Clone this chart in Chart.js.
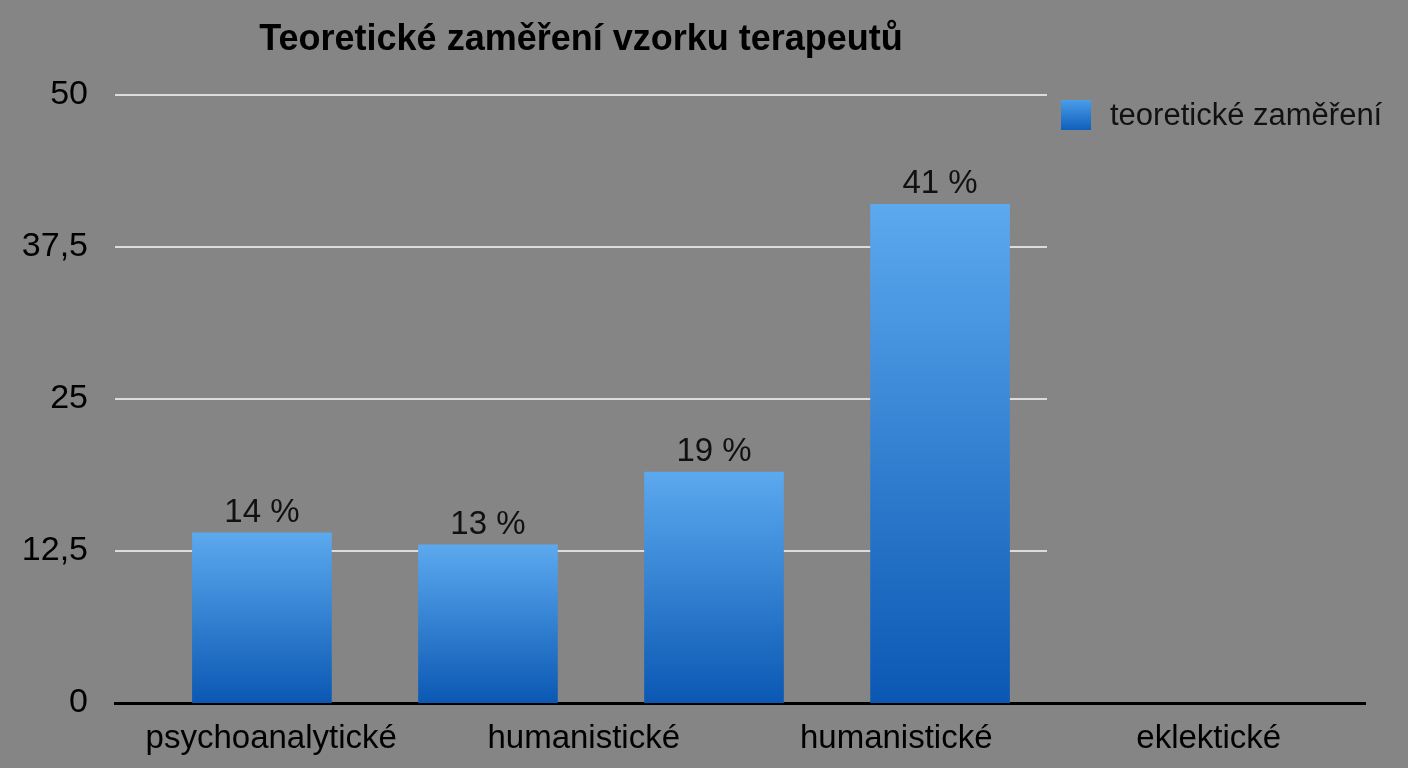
<!DOCTYPE html>
<html lang="cs">
<head>
  <meta charset="UTF-8">
  <title>Teoretické zaměření vzorku terapeutů</title>
  <script src="https://cdn.jsdelivr.net/npm/chart.js"></script>
  <style>
    html, body { margin: 0; padding: 0; background: #858585; }
    #wrap { width: 1408px; height: 768px; }
  </style>
</head>
<body>
  <div id="wrap"><canvas id="chart" width="1408" height="768"></canvas></div>

  <script>
    // data
    const chartTitle = "Teoretické zaměření vzorku terapeutů";
    const seriesLabel = "teoretické zaměření";
    const categories = ["psychoanalytické", "humanistické", "humanistické", "eklektické"];
    const percentValues = [14, 13, 19, 41];
    const yTicks = [0, 12.5, 25, 37.5, 50];

    const FONT = '"Liberation Sans", Arial, Helvetica, sans-serif';
    Chart.defaults.font.family = FONT;
    Chart.defaults.color = "#000";

    const GRID_RIGHT = 1047;   // gridlines stop short of the axis line
    const BAR_TOP = "#5ca9ef";
    const BAR_BOTTOM = "#0a58b3";

    function barGradient(c) {
      const chart = c.chart;
      if (!chart.chartArea || c.type !== "data" || !c.parsed) return "#2b82da";
      const y = chart.scales.y;
      const g = chart.ctx.createLinearGradient(0, y.getPixelForValue(c.parsed.y), 0, y.getPixelForValue(0));
      g.addColorStop(0, BAR_TOP);
      g.addColorStop(1, BAR_BOTTOM);
      return g;
    }

    // gridlines, title, legend and value labels
    const decorations = {
      id: "decorations",
      beforeDatasetsDraw(chart) {
        const { ctx, chartArea, scales } = chart;
        ctx.save();
        ctx.strokeStyle = "#dcdcdc";
        ctx.lineWidth = 2;
        yTicks.forEach(v => {
          if (v === 0) return;
          const py = Math.round(scales.y.getPixelForValue(v));
          ctx.beginPath();
          ctx.moveTo(chartArea.left, py);
          ctx.lineTo(GRID_RIGHT, py);
          ctx.stroke();
        });
        ctx.restore();
      },
      afterDraw(chart) {
        const { ctx, chartArea } = chart;
        const meta = chart.getDatasetMeta(0);
        ctx.save();

        // title
        ctx.fillStyle = "#000";
        ctx.font = "bold 36px " + FONT;
        ctx.textAlign = "center";
        ctx.textBaseline = "middle";
        ctx.fillText(chartTitle, (chartArea.left + GRID_RIGHT) / 2, 40);

        // value labels
        ctx.font = "33px " + FONT;
        ctx.fillStyle = "#111";
        ctx.textBaseline = "alphabetic";
        meta.data.forEach((bar, i) => {
          const v = percentValues[i];
          if (v == null) return;
          ctx.fillText(v + " %", bar.x, bar.y - 11);
        });

        // legend
        const bx = 1061, by = 100, bs = 30;
        const g = ctx.createLinearGradient(0, by, 0, by + bs);
        g.addColorStop(0, "#4a9de8");
        g.addColorStop(1, "#0f5fbc");
        ctx.fillStyle = g;
        ctx.fillRect(bx, by, bs, bs);
        ctx.fillStyle = "#111";
        ctx.font = "31px " + FONT;
        ctx.textAlign = "left";
        ctx.textBaseline = "middle";
        ctx.fillText(seriesLabel, 1110, by + bs / 2 + 1);

        ctx.restore();
      }
    };

    new Chart(document.getElementById("chart").getContext("2d"), {
      type: "bar",
      data: {
        labels: categories,
        datasets: [{
          label: seriesLabel,
          xAxisID: "xb",
          data: percentValues.map((v, i) => ({ x: i, y: v })),
          backgroundColor: barGradient,
          borderWidth: 0,
          barThickness: 139
        }]
      },
      options: {
        responsive: false,
        animation: false,
        events: [],
        layout: { padding: { top: 95, right: 43, left: 0, bottom: 0 } },
        plugins: {
          legend: { display: false },
          title: { display: false },
          tooltip: { enabled: false }
        },
        scales: {
          x: {
            type: "category",
            labels: categories,
            offset: true,
            grid: { display: false, drawTicks: false },
            border: { display: true, color: "#000", width: 3 },
            ticks: { font: { size: 33 }, padding: 16, color: "#000" },
            afterFit(s) { s.height = 65; }
          },
          xb: {
            type: "linear",
            display: false,
            offset: false,
            min: -0.65,
            max: 4.88
          },
          y: {
            min: 0,
            max: 50,
            grid: { display: false, drawTicks: false },
            border: { display: false },
            afterBuildTicks(s) { s.ticks = yTicks.map(v => ({ value: v })); },
            ticks: {
              font: { size: 34 },
              padding: 27,
              color: "#000",
              callback: v => String(v).replace(".", ",")
            },
            afterFit(s) { s.width = 115; }
          }
        }
      },
      plugins: [decorations]
    });
  </script>
</body>
</html>
